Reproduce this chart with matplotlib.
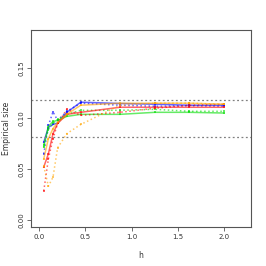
import numpy as np
import matplotlib
matplotlib.use("Agg")
import matplotlib.pyplot as plt

h = [0.05, 0.1, 0.15, 0.2, 0.3, 0.45, 0.875, 1.25, 1.625, 2.0]

blue_solid = [0.0765, 0.091, 0.094, 0.0955, 0.106, 0.116, 0.1147, 0.114, 0.113, 0.113]
blue_dot = [0.065, 0.093, 0.1065, 0.098, 0.107, 0.115, 0.113, 0.112, 0.1125, 0.112]
green_solid = [0.072, 0.092, 0.097, 0.098, 0.102, 0.104, 0.104, 0.106, 0.106, 0.1053]
green_dot = [0.074, 0.089, 0.095, 0.099, 0.104, 0.108, 0.108, 0.109, 0.107, 0.107]
red_solid = [0.052, 0.065, 0.085, 0.095, 0.104, 0.106, 0.111, 0.111, 0.111, 0.111]
red_dot = [0.0284, 0.06, 0.08, 0.095, 0.109, 0.103, 0.106, 0.11, 0.113, 0.114]
orange_solid = [0.06, 0.08, 0.09, 0.096, 0.104, 0.113, 0.115, 0.115, 0.115, 0.114]
orange_dot = [0.053, 0.033, 0.042, 0.071, 0.085, 0.094, 0.113, 0.115, 0.115, 0.114]

band = [0.0814, 0.1186]

fig = plt.figure(figsize=(2.66, 2.66), dpi=100)
ax = fig.add_axes([0.1165, 0.1466, 0.826, 0.7404])

series = [
    (blue_solid, "blue", "-"),
    (blue_dot, "blue", ":"),
    (green_solid, "#00dd00", "-"),
    (green_dot, "#00dd00", ":"),
    (red_solid, "red", "-"),
    (red_dot, "red", ":"),
    (orange_solid, "orange", "-"),
    (orange_dot, "orange", ":"),
]
for y, c, ls in series:
    ax.plot(h, y, color=c, ls=ls, lw=1.1, alpha=0.6,
            marker="s", ms=1.7, mew=0)

for b in band:
    ax.axhline(b, color="gray", ls=(0, (1.5, 2)), lw=0.9)

ax.set_xlim(-0.088, 2.288)
ax.set_ylim(-0.0072, 0.1872)
ax.set_xticks([0.0, 0.5, 1.0, 1.5, 2.0])
ax.set_xticklabels(["0.0", "0.5", "1.0", "1.5", "2.0"])
ax.set_yticks([0.0, 0.05, 0.10, 0.15])
ax.set_yticklabels(["0.00", "0.05", "0.10", "0.15"], rotation=90, va="center")
ax.tick_params(labelsize=5, length=3, width=0.6, color="#555555", labelcolor="#333333", pad=2)
for s in ax.spines.values():
    s.set_color("#555555")
    s.set_linewidth(0.8)
ax.set_xlabel("h", fontsize=5.5, color="#333333", labelpad=8)
ax.set_ylabel("Empirical size", fontsize=5.5, color="#333333", labelpad=5)

fig.savefig("out.png", dpi=100)
